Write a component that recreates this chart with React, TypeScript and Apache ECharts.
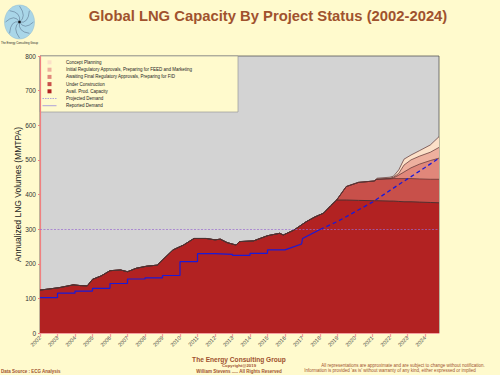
import React, { useEffect, useRef } from 'react';
import * as echarts from 'echarts';

// ---- Data ----
const years = [2002, 2002.5, 2003.1, 2003.9, 2004.3, 2004.7, 2005.0, 2005.5, 2006.0, 2006.6,
  2007.0, 2007.5, 2008.1, 2008.7, 2009.0, 2009.6, 2010.2, 2010.8, 2011.5, 2012.0,
  2012.3, 2012.7, 2013.2, 2013.4, 2014.2, 2015.0, 2015.7, 2015.9, 2016.5, 2017.2,
  2017.7, 2018.2, 2018.6, 2018.95, 2019.5, 2020.2, 2021.1, 2021.25, 2022.0, 2022.2,
  2022.5, 2022.8, 2023.2, 2023.7, 2024.3, 2024.8];

const availCapacity = [124, 127, 131, 139, 137, 136, 155, 165, 180, 182,
  177, 187, 193, 196, 211, 240, 254, 273, 273, 269,
  271, 261, 254, 264, 266, 281, 288, 283, 297, 321,
  335, 346, 367, 384, 384, 383, 382, 382, 381, 381,
  380, 379, 379, 378, 377, 376];

const underConstruction = [0, 0, 0, 0, 0, 0, 0, 0, 0, 0,
  0, 0, 0, 0, 0, 0, 0, 0, 0, 0,
  0, 0, 0, 0, 0, 0, 0, 0, 0, 0,
  0, 0, 0, 0, 39, 52, 57, 62, 64, 65,
  66, 67, 67, 67, 67, 68];

const awaitingFID = [0, 0, 0, 0, 0, 0, 0, 0, 0, 0,
  0, 0, 0, 0, 0, 0, 0, 0, 0, 0,
  0, 0, 0, 0, 0, 0, 0, 0, 0, 0,
  0, 0, 0, 0, 0, 0, 0, 0, 1, 2,
  10, 19, 31, 43, 54, 61];

const initialRegulatory = [0, 0, 0, 0, 0, 0, 0, 0, 0, 0,
  0, 0, 0, 0, 0, 0, 0, 0, 0, 0,
  0, 0, 0, 0, 0, 0, 0, 0, 0, 0,
  0, 0, 0, 0, 0, 0, 0, 0, 1, 2,
  5, 20, 23, 23, 24, 31];

const conceptPlanning = [0, 0, 0, 0, 0, 0, 0, 0, 0, 0,
  0, 0, 0, 0, 0, 0, 0, 0, 0, 0,
  0, 0, 0, 0, 0, 0, 0, 0, 0, 0,
  0, 0, 0, 0, 0, 0, 0, 3, 3, 3,
  10, 17, 14, 16, 21, 31];

const reportedYears = [2002, 2003, 2003, 2004, 2004, 2005, 2005, 2006, 2006, 2007, 2007,
  2008, 2008, 2009, 2009, 2010, 2010, 2011, 2011, 2012, 2012, 2013, 2013, 2014, 2014,
  2015, 2015, 2016, 2016.95, 2017.0, 2018.0];
const reportedDemand = [102, 102, 115, 115, 121, 121, 129, 129, 143, 143, 156,
  156, 159, 159, 166, 166, 206, 206, 229, 229, 227, 227, 224, 224, 230,
  230, 240, 240, 257, 273, 299];

const projectedYears = [2018, 2019, 2020, 2021, 2022, 2023, 2024, 2024.8];
const projectedDemand = [299, 322, 350, 378, 412, 445, 478, 505];

const thresholdLine = 300;

const layerNames = ['Avail. Prod. Capacity', 'Under Construction',
  'Awaiting Final Regulatory Approvals, Preparing for FID',
  'Initial Regulatory Approvals, Preparing for FEED and Marketing', 'Concept Planning'];
const layerColors = ['#B22222', '#C8504A', '#E0877A', '#EEB09E', '#FCE0C8'];
const layerValues = [availCapacity, underConstruction, awaitingFID, initialRegulatory, conceptPlanning];

const FONT = '"Liberation Sans", Arial, sans-serif';
const BROWN = '#A0522D';

export default function App() {
  const ref = useRef<HTMLDivElement>(null);

  useEffect(() => {
    document.body.style.margin = '0';
    if (!ref.current) return;
    const chart = echarts.init(ref.current, null, { renderer: 'svg' });

    // stacked totals (bottom-up), painted top layer first so lower layers overlay
    const cumulative: number[][] = [];
    layerValues.forEach((vals, i) => {
      cumulative.push(vals.map((v, j) => v + (i > 0 ? cumulative[i - 1][j] : 0)));
    });
    const areaSeries = [4, 3, 2, 1, 0].map((i) => ({
      name: layerNames[i],
      type: 'line',
      data: years.map((x, j) => [x, cumulative[i][j]]),
      showSymbol: false,
      symbol: 'none',
      lineStyle: { color: i === 0 ? '#503030' : '#5a3030', width: i === 0 ? 1 : 0.7 },
      areaStyle: { color: layerColors[i], opacity: 1 },
      z: 2,
    }));

    // logo
    const cx = 19.5, cy = 22;
    const arms = [0, 1, 2, 3, 4, 5, 6, 7].map((k) => {
      const a = (k * Math.PI) / 4;
      const a2 = a + 1.0;
      return {
        type: 'bezierCurve',
        shape: {
          x1: cx, y1: cy,
          cpx1: cx + 9 * Math.cos(a2), cpy1: cy + 10 * Math.sin(a2),
          x2: cx + 14 * Math.cos(a), y2: cy + 16 * Math.sin(a),
        },
        style: { stroke: '#3a4a66', lineWidth: 0.4, fill: null },
      };
    });

    const legendRowsY = [62.3, 69.7, 76.9, 84.1, 91.3, 98.5, 105.7];
    const legendItems: any[] = [];
    const legendOrder = [4, 3, 2, 1, 0];
    legendOrder.forEach((li, r) => {
      legendItems.push({
        type: 'rect',
        shape: { x: 47.5, y: legendRowsY[r] - 2, width: 4, height: 4 },
        style: { fill: layerColors[li] },
      });
      legendItems.push({
        type: 'text',
        x: 66, y: legendRowsY[r],
        style: { text: layerNames[li], fontSize: 4.5, fill: '#222', fontFamily: FONT, textVerticalAlign: 'middle' },
      });
    });
    legendItems.push({
      type: 'line',
      shape: { x1: 42.5, y1: legendRowsY[5], x2: 56.5, y2: legendRowsY[5] },
      style: { stroke: '#8c7ee0', lineWidth: 0.7, lineDash: [1.5, 1] },
    });
    legendItems.push({
      type: 'text', x: 66, y: legendRowsY[5],
      style: { text: 'Projected Demand', fontSize: 4.5, fill: '#222', fontFamily: FONT, textVerticalAlign: 'middle' },
    });
    legendItems.push({
      type: 'line',
      shape: { x1: 42.5, y1: legendRowsY[6], x2: 56.5, y2: legendRowsY[6] },
      style: { stroke: '#8c7ee0', lineWidth: 0.7 },
    });
    legendItems.push({
      type: 'text', x: 66, y: legendRowsY[6],
      style: { text: 'Reported Demand', fontSize: 4.5, fill: '#222', fontFamily: FONT, textVerticalAlign: 'middle' },
    });

    chart.setOption({
      animation: false,
      backgroundColor: '#FFFACD',
      textStyle: { fontFamily: FONT },
      grid: {
        left: 40, right: 61, top: 56, bottom: 42,
        show: true, backgroundColor: '#D3D3D3', borderColor: '#555', borderWidth: 0.8,
      },
      xAxis: {
        type: 'value', min: 2002, max: 2024.8, interval: 1,
        axisLine: { show: true, lineStyle: { color: '#F4A0A0', width: 1 } },
        axisTick: { show: true, length: 4, lineStyle: { color: '#F4A0A0', width: 1.3 } },
        axisLabel: {
          rotate: 45, fontSize: 5.5, color: '#444', margin: 4, showMaxLabel: false,
          formatter: (v: number) => (Number.isInteger(v) ? String(v) : ''),
        },
        splitLine: { show: false },
      },
      yAxis: {
        type: 'value', min: 0, max: 800, interval: 100,
        name: 'Annualized LNG Volumes (MMTPA)', nameLocation: 'middle', nameGap: 18,
        nameMoveOverlap: false,
        nameTextStyle: { fontSize: 8.5, color: '#222' },
        axisLine: { show: true, lineStyle: { color: '#F08080', width: 1.2 } },
        axisTick: { show: true, length: 2, lineStyle: { color: '#F08080' } },
        axisLabel: { fontSize: 6.5, color: '#333', margin: 4 },
        splitLine: { show: false },
      },
      series: [
        ...areaSeries,
        {
          name: 'Reported Demand', type: 'line', showSymbol: false, symbol: 'none',
          data: reportedYears.map((x, j) => [x, reportedDemand[j]]),
          lineStyle: { color: '#1a1ad8', width: 1.2 }, z: 5,
        },
        {
          name: 'Projected Demand', type: 'line', showSymbol: false, symbol: 'none',
          data: projectedYears.map((x, j) => [x, projectedDemand[j]]),
          lineStyle: { color: '#1a1ad8', width: 1.3, type: [4, 3] }, z: 5,
          markLine: {
            silent: true, symbol: ['none', 'none'], label: { show: false },
            lineStyle: { color: '#9a6ad0', type: [2, 1.5], width: 0.7 },
            data: [{ yAxis: thresholdLine }],
          },
        },
      ],
      graphic: [
        {
          type: 'group', z: 100,
          children: [
            { type: 'rect', shape: { x: 40, y: 56, width: 198, height: 56 },
              style: { fill: '#FFFACD', stroke: '#9a9a9a', lineWidth: 0.7 } },
            ...legendItems,
          ],
        },
        {
          type: 'group', z: 100,
          children: [
            { type: 'ellipse', shape: { cx, cy, rx: 15, ry: 17 }, style: { fill: '#A9D6E8', stroke: '#8ab8d0', lineWidth: 0.5 } },
            ...arms,
            { type: 'circle', shape: { cx, cy, r: 1.3 }, style: { fill: '#111' } },
            { type: 'text', x: 19.5, y: 42.7,
              style: { text: 'The Energy Consulting Group', fontSize: 2.8, fill: '#222', fontFamily: FONT, textAlign: 'center', textVerticalAlign: 'middle' } },
          ],
        },
        { type: 'text', x: 268, y: 16, z: 100,
          style: { text: 'Global LNG Capacity By Project Status (2002-2024)', fontSize: 14.8, fontWeight: 'bold', fill: BROWN, fontFamily: FONT, textAlign: 'center', textVerticalAlign: 'middle' } },
        { type: 'text', x: 239, y: 359.5, z: 100,
          style: { text: 'The Energy Consulting Group', fontSize: 6.6, fontWeight: 'bold', fill: BROWN, fontFamily: FONT, textAlign: 'center', textVerticalAlign: 'middle' } },
        { type: 'text', x: 239, y: 365.8, z: 100,
          style: { text: 'Copyright@2019', fontSize: 4.3, fontWeight: 'bold', fill: BROWN, fontFamily: FONT, textAlign: 'center', textVerticalAlign: 'middle' } },
        { type: 'text', x: 239, y: 371, z: 100,
          style: { text: 'William Stevens ..... All Rights Reserved', fontSize: 4.5, fontWeight: 'bold', fill: BROWN, fontFamily: FONT, textAlign: 'center', textVerticalAlign: 'middle' } },
        { type: 'text', x: 1, y: 371.5, z: 100,
          style: { text: 'Data Source : ECG Analysis', fontSize: 4.5, fontWeight: 'bold', fill: BROWN, fontFamily: FONT, textAlign: 'left', textVerticalAlign: 'middle' } },
        { type: 'text', x: 403, y: 365.7, z: 100,
          style: { text: 'All representations are approximate and are subject to change without notification.', fontSize: 4.5, fill: BROWN, fontFamily: FONT, textAlign: 'center', textVerticalAlign: 'middle' } },
        { type: 'text', x: 390, y: 370.7, z: 100,
          style: { text: "Information is provided 'as is' without warranty of any kind, either expressed or implied", fontSize: 4.5, fill: BROWN, fontFamily: FONT, textAlign: 'center', textVerticalAlign: 'middle' } },
      ],
    });

    return () => chart.dispose();
  }, []);

  return <div ref={ref} style={{ width: 500, height: 375 }} />;
}
